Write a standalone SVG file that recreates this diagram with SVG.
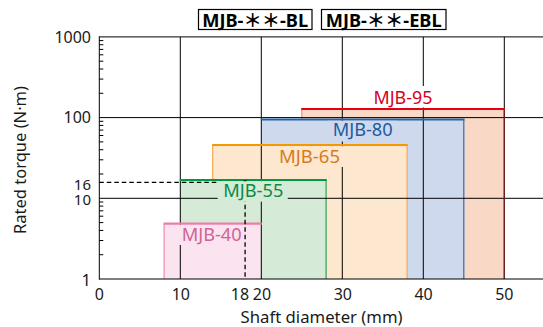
<svg xmlns="http://www.w3.org/2000/svg" width="543" height="327" viewBox="0 0 543 327">
<style>
text{font-family:"Noto Sans","Noto Sans CJK JP",sans-serif}
.tick{font-size:16px;fill:#1a1a1a}
.lbl{font-size:17.5px;text-anchor:middle}
.hdr{font-size:18px;font-weight:bold;fill:#000}
.grid{stroke:#000;stroke-width:1;fill:none}
.side{stroke-width:1.2;fill:none}
.top{stroke-width:2.2;fill:none}
</style>
<rect width="543" height="327" fill="#fff"/>

<!-- header boxes -->
<g id="hdr-bl">
<rect x="198.5" y="9.5" width="113.5" height="20" fill="#fff" stroke="#000" stroke-width="1.2"/>
<text class="hdr" x="255.2" y="26.5" text-anchor="middle" textLength="106" lengthAdjust="spacingAndGlyphs">MJB-＊＊-BL</text>
</g>
<g id="hdr-ebl">
<rect x="321.5" y="9.5" width="124.5" height="20" fill="#fff" stroke="#000" stroke-width="1.2"/>
<text class="hdr" x="383.7" y="26.5" text-anchor="middle" textLength="116" lengthAdjust="spacingAndGlyphs">MJB-＊＊-EBL</text>
</g>

<!-- range nodes (fills and borders) -->
<g id="mjb-95">
<rect x="301.8" y="109" width="202.5" height="170" fill="#f9d9c5"/>
<line class="side" x1="301.8" y1="109" x2="301.8" y2="279" stroke="#f08a8a"/>
</g>
<g id="mjb-80">
<rect x="261.3" y="119.5" width="202.5" height="159.5" fill="#cfd9ee"/>
<line class="side" x1="463.8" y1="119.5" x2="463.8" y2="279" stroke="#2a6ebb"/>
</g>
<g id="mjb-65">
<rect x="212.7" y="145" width="194.4" height="134" fill="#fde7cf"/>
<line class="side" x1="212.7" y1="145" x2="212.7" y2="279" stroke="#f5a94c"/>
<line class="side" x1="407.1" y1="145" x2="407.1" y2="279" stroke="#f5a94c"/>
</g>
<g id="mjb-55">
<rect x="180.3" y="180" width="145.8" height="99" fill="#d5ebd7"/>
<line class="side" x1="326.1" y1="180" x2="326.1" y2="279" stroke="#2ea05a"/>
</g>
<g id="mjb-40">
<rect x="164.1" y="223.7" width="97.2" height="55.3" fill="#fbe4ef"/>
<line class="side" x1="164.1" y1="223.7" x2="164.1" y2="279" stroke="#ee8ab3"/>
</g>

<!-- grid and axes -->
<g id="grid">
<line class="grid" x1="99.3" y1="36.9" x2="543" y2="36.9" stroke-width="1.2"/>
<line class="grid" x1="99.3" y1="198.3" x2="543" y2="198.3"/>
<line class="grid" x1="99.3" y1="117.6" x2="543" y2="117.6" stroke="#707070" stroke-width="1.6"/>
<line class="grid" x1="180.3" y1="36.9" x2="180.3" y2="279"/>
<line class="grid" x1="261.3" y1="36.9" x2="261.3" y2="279"/>
<line class="grid" x1="342.3" y1="36.9" x2="342.3" y2="279"/>
<line class="grid" x1="423.3" y1="36.9" x2="423.3" y2="279" stroke="#333"/>
<line class="grid" x1="504.3" y1="36.9" x2="504.3" y2="279" stroke="#666"/>
<line x1="504.3" y1="109" x2="504.3" y2="279" stroke="#6b2424" stroke-width="1.3"/>
<line class="grid" x1="99.3" y1="279" x2="543" y2="279" stroke="#444" stroke-width="1.4"/>
<line class="grid" x1="99.3" y1="36.3" x2="99.3" y2="279.7" stroke-width="1.4"/>
<path class="grid" d="M99.3 254.71h4M99.3 240.5h4M99.3 230.41h4M99.3 222.59h4M99.3 216.2h4M99.3 210.8h4M99.3 206.12h4M99.3 201.99h4M99.3 174.01h4M99.3 159.8h4M99.3 149.71h4M99.3 141.89h4M99.3 135.5h4M99.3 130.1h4M99.3 125.42h4M99.3 121.29h4M99.3 93.31h4M99.3 79.1h4M99.3 69.01h4M99.3 61.19h4M99.3 54.8h4M99.3 49.4h4M99.3 44.72h4M99.3 40.59h4"/>
</g>

<!-- top borders -->
<g id="top-borders">
<line class="top" x1="301.2" y1="109" x2="505" y2="109" stroke="#e60012"/>
<line class="top" x1="260.8" y1="119.5" x2="464.5" y2="119.5" stroke="#1e64aa"/>
<line class="top" x1="212.2" y1="145" x2="407.7" y2="145" stroke="#f39800"/>
<line class="top" x1="179.8" y1="180" x2="326.7" y2="180" stroke="#009944"/>
<line class="top" x1="163.6" y1="223.7" x2="261.8" y2="223.7" stroke="#ee7aa8"/>
</g>

<!-- reading example connectors -->
<g id="connectors" stroke="#000" stroke-width="1.3" fill="none" stroke-dasharray="4.5 3">
<line x1="99.3" y1="182.3" x2="245.1" y2="182.3"/>
<line x1="245.1" y1="182.3" x2="245.1" y2="279"/>
</g>
<circle cx="245.1" cy="182.3" r="2" fill="#000"/>

<!-- labels with knockouts -->
<g id="label-95">
<rect x="368" y="86" width="70" height="21.5" fill="#fff"/>
<text class="lbl" x="403" y="104.3" fill="#d7001a" textLength="59" lengthAdjust="spacingAndGlyphs">MJB-95</text>
</g>
<g id="label-80">
<rect x="328" y="120.8" width="69" height="20.7" fill="#cfd9ee"/>
<text class="lbl" x="362.7" y="136" fill="#1b5b9e" textLength="60" lengthAdjust="spacingAndGlyphs">MJB-80</text>
</g>
<g id="label-65">
<rect x="272" y="146.3" width="74" height="20.7" fill="#fde7cf"/>
<text class="lbl" x="309.5" y="163.3" fill="#d67a1c" textLength="61" lengthAdjust="spacingAndGlyphs">MJB-65</text>
</g>
<g id="label-55">
<rect x="217.7" y="181.2" width="70" height="20.5" fill="#d5ebd7"/>
<text class="lbl" x="253.3" y="196.7" fill="#0a8a45" textLength="60" lengthAdjust="spacingAndGlyphs">MJB-55</text>
</g>
<g id="label-40">
<rect x="176" y="224.9" width="67.5" height="20.1" fill="#fbe4ef"/>
<text class="lbl" x="211.7" y="241" fill="#d0629a" textLength="60" lengthAdjust="spacingAndGlyphs">MJB-40</text>
</g>

<!-- axis tick labels -->
<g id="y-ticks" text-anchor="end">
<text class="tick" x="91" y="43.2" font-size="16.5">1000</text>
<text class="tick" x="91" y="123.4" font-size="16.5">100</text>
<text class="tick" x="91" y="189.6" style="font-size:15px">16</text>
<text class="tick" x="91" y="205" style="font-size:15px">10</text>
<text class="tick" x="91" y="286" style="font-size:16.5px">1</text>
</g>
<g id="x-ticks" text-anchor="middle">
<text class="tick" x="99.3" y="300.3">0</text>
<text class="tick" x="180.8" y="300.3">10</text>
<text class="tick" x="240" y="300.3">18</text>
<text class="tick" x="262" y="300.3">20</text>
<text class="tick" x="342.8" y="300.3">30</text>
<text class="tick" x="423.6" y="300.3">40</text>
<text class="tick" x="504.3" y="300.3">50</text>
</g>
<text id="x-title" x="321.6" y="322.6" font-size="16" fill="#1a1a1a" text-anchor="middle" textLength="162" lengthAdjust="spacingAndGlyphs">Shaft diameter (mm)</text>
<text id="y-title" transform="translate(25.5,160) rotate(-90)" font-size="16.5" fill="#1a1a1a" text-anchor="middle">Rated torque (N·m)</text>
</svg>
